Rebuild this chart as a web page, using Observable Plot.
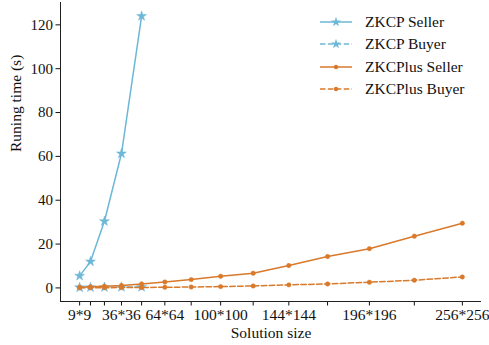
<!DOCTYPE html>
<html><head><meta charset="utf-8">
<script src="https://cdn.jsdelivr.net/npm/d3@7"></script>
<script src="https://cdn.jsdelivr.net/npm/@observablehq/plot@0.6"></script>
<style>
body{margin:0;background:#fff;font-family:'Liberation Serif','Times New Roman','DejaVu Serif',serif;}
#wrap{position:relative;width:489px;height:345px;}
#legend{position:absolute;left:319px;top:11px;font-size:15.5px;color:#111;font-family:'Liberation Serif','Times New Roman','DejaVu Serif',serif;}
.row{display:flex;align-items:center;height:22.3px;}
.row svg{margin-right:12px;}
#wrap svg text{font-family:'Liberation Serif','Times New Roman','DejaVu Serif',serif;}
</style></head><body><div id="wrap"><div id="legend"></div></div>
<script>
const sizes = [9,16,25,36,49,64,81,100,121,144,169,196,225,256];
const labeledSizes = [9,36,64,100,144,196,256];
const zkcpSeller = [5.5, 12.0, 30.4, 61.3, 124.0];
const zkcpBuyer = [0.2, 0.25, 0.3, 0.35, 0.4];
const zkcplusSeller = [0.3, 0.5, 0.8, 1.1, 1.8, 2.7, 3.8, 5.3, 6.7, 10.2, 14.3, 17.9, 23.6, 29.5];
const zkcplusBuyer = [0.05, 0.07, 0.1, 0.15, 0.2, 0.3, 0.4, 0.6, 0.9, 1.4, 1.8, 2.6, 3.5, 5.0];
const yTicks = [0,20,40,60,80,100,120];

const blue = "#6cb8d6", orange = "#d9792b";
const series = [
  {name:"ZKCP Seller", vals: zkcpSeller, color: blue, dash: null, symbol: "star", r: 3.1},
  {name:"ZKCP Buyer", vals: zkcpBuyer, color: blue, dash: "5.5,2.4", symbol: "star", r: 3.1},
  {name:"ZKCPlus Seller", vals: zkcplusSeller, color: orange, dash: null, symbol: "circle", r: 2.2},
  {name:"ZKCPlus Buyer", vals: zkcplusBuyer, color: orange, dash: "5.5,2.4", symbol: "circle", r: 2.2}
];

const xmin = 9 - 0.05*(256-9), xmax = 256 + 0.05*(256-9);
const ymin = 0 - 0.05*124, ymax = 124 + 0.05*124;

const marks = [];
for (const s of series) {
  const data = s.vals.map((v,i)=>({x:sizes[i], y:v}));
  marks.push(Plot.line(data, {x:"x", y:"y", stroke:s.color, strokeWidth:1.5, strokeDasharray:s.dash}));
  marks.push(Plot.dot(data, {x:"x", y:"y", fill:s.color, stroke:s.color, strokeWidth:0.5, symbol:s.symbol, r:s.r}));
}

const chart = Plot.plot({
  width:489, height:345, marginLeft:60, marginRight:8, marginTop:2, marginBottom:44,
  style:{fontFamily:"'Liberation Serif', 'Times New Roman', serif", fontSize:"15px", background:"white", color:"#111", overflow:"visible"},
  x:{domain:[xmin,xmax]},
  y:{domain:[ymin,ymax]},
  marks:[
    Plot.axisY({ticks:yTicks, tickSize:4.5, tickPadding:3, label:null, fontSize:15}),
    Plot.axisX({ticks:sizes, tickFormat:d => labeledSizes.includes(d) ? `${d}*${d}` : "", tickSize:4.5, tickPadding:2.5, label:null, fontSize:15.5}),
    Plot.ruleX([xmin], {stroke:"#222", strokeWidth:1}),
    Plot.ruleY([ymin], {stroke:"#222", strokeWidth:1}),
    Plot.text(["Solution size"], {frameAnchor:"bottom", dy:36, fontSize:15.5}),
    Plot.text(["Runing time (s)"], {frameAnchor:"left", rotate:-90, dx:-44, fontSize:15.5}),
    ...marks
  ]
});
document.getElementById("wrap").prepend(chart);

const legend = document.getElementById("legend");
for (const s of series) {
  const row = document.createElement("div");
  row.className = "row";
  const star = d3.symbol(d3.symbolStar, 3.1*3.1*Math.PI)();
  const circ = d3.symbol(d3.symbolCircle, 2.2*2.2*Math.PI)();
  row.innerHTML = `<svg width="34" height="12"><line x1="1" x2="33" y1="6" y2="6" stroke="${s.color}" stroke-width="1.5" ${s.dash?`stroke-dasharray="${s.dash}"`:""}/><path transform="translate(17,6)" d="${s.symbol==="star"?star:circ}" fill="${s.color}"/></svg><span>${s.name}</span>`;
  legend.appendChild(row);
}
</script>
</body></html>
